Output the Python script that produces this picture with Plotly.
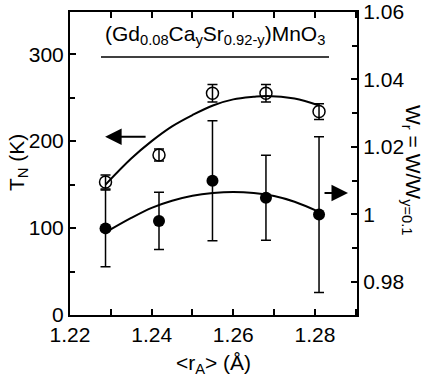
import plotly.graph_objects as go

# data
r_A = [1.2287, 1.2418, 1.2549, 1.2680, 1.2810]
T_N = [153, 184, 255, 255, 234]
T_N_err = [8, 7, 10, 10, 9]
W_r = [0.9958, 0.9980, 1.0099, 1.0049, 0.9999]
W_err = [0.0114, 0.0085, 0.0178, 0.0126, 0.0231]

# guide curves
fit_T_x = [1.2287, 1.235, 1.24, 1.245, 1.25, 1.255, 1.26, 1.265, 1.2682, 1.275, 1.281]
fit_T_y = [150, 180, 200, 217, 230, 241, 248, 251, 252, 249, 241]
fit_W_x = [1.2287, 1.235, 1.24, 1.245, 1.25, 1.255, 1.26, 1.265, 1.27, 1.275, 1.281]
fit_W_y = [0.9946, 0.9989, 1.0019, 1.0040, 1.0055, 1.0063, 1.0066, 1.0063, 1.0054, 1.0037, 1.0007]

FONT = "Liberation Sans, Arial, Helvetica, sans-serif"
BLACK = "black"
FS = 21

fig = go.Figure()

fig.add_trace(go.Scatter(x=fit_T_x, y=fit_T_y, mode="lines", line=dict(color=BLACK, width=2, shape="spline"),
                         showlegend=False, hoverinfo="skip"))
fig.add_trace(go.Scatter(x=fit_W_x, y=fit_W_y, mode="lines", yaxis="y2",
                         line=dict(color=BLACK, width=2, shape="spline"), showlegend=False, hoverinfo="skip"))

fig.add_trace(go.Scatter(
    x=r_A, y=T_N, mode="markers",
    marker=dict(symbol="circle-open", size=12, color=BLACK, line=dict(width=1.5, color=BLACK)),
    error_y=dict(type="data", array=T_N_err, color=BLACK, thickness=1.5, width=5),
    showlegend=False))

fig.add_trace(go.Scatter(
    x=r_A, y=W_r, mode="markers", yaxis="y2",
    marker=dict(symbol="circle", size=12, color=BLACK),
    error_y=dict(type="data", array=W_err, color=BLACK, thickness=1.5, width=5),
    showlegend=False))

axis_common = dict(
    showgrid=False, zeroline=False, showline=True, linecolor=BLACK, linewidth=2,
    ticks="inside", ticklen=6, tickwidth=1.5, tickcolor=BLACK, automargin=False,
    tickfont=dict(family=FONT, size=FS, color=BLACK),
)

fig.update_layout(
    width=427, height=382,
    margin=dict(l=70, r=70, t=12, b=67, autoexpand=False),
    paper_bgcolor="white", plot_bgcolor="white",
    font=dict(family=FONT, color=BLACK),
    xaxis=dict(
        range=[1.22, 1.2903], tickvals=[1.22, 1.24, 1.26, 1.28], ticktext=["1.22", "1.24", "1.26", "1.28"],
        minor=dict(dtick=0.01, tick0=1.22, ticks="inside", ticklen=5, tickwidth=1.5, tickcolor=BLACK),
        mirror="allticks",
        title=dict(text="<r<sub>A</sub>> (Å)", font=dict(family=FONT, size=FS, color=BLACK), standoff=10),
        **axis_common,
    ),
    yaxis=dict(
        range=[0, 348.5], tickvals=[0, 100, 200, 300],
        minor=dict(dtick=50, tick0=0, ticks="inside", ticklen=5, tickwidth=1.5, tickcolor=BLACK),
        **axis_common,
    ),
    yaxis2=dict(
        range=[0.9701, 1.0600], overlaying="y", side="right",
        tickvals=[0.98, 1.0, 1.02, 1.04, 1.06], ticktext=["0.98", "1", "1.02", "1.04", "1.06"],
        minor=dict(dtick=0.01, tick0=0.97, ticks="inside", ticklen=5, tickwidth=1.5, tickcolor=BLACK),
        **axis_common,
    ),
)

# axis titles as rotated annotations
fig.add_annotation(text="T<sub>N</sub> (K)", xref="paper", yref="paper",
                   x=-52 / 287, y=(315 - 163) / 303, showarrow=False, textangle=-90,
                   font=dict(family=FONT, size=FS, color=BLACK), xanchor="center", yanchor="middle")
fig.add_annotation(text="W<sub>r</sub> = W/W<sub>y=0.1</sub>", xref="paper", yref="paper",
                   x=1 + 55 / 287, y=(315 - 170) / 303, showarrow=False, textangle=90,
                   font=dict(family=FONT, size=FS, color=BLACK), xanchor="center", yanchor="middle")

# compound label with underline
fig.add_annotation(text="(Gd<sub>0.08</sub>Ca<sub>y</sub>Sr<sub>0.92-y</sub>)MnO<sub>3</sub>",
                   xref="paper", yref="paper", x=(215 - 70) / 287, y=(315 - 35) / 303,
                   showarrow=False, font=dict(family=FONT, size=FS, color=BLACK),
                   xanchor="center", yanchor="middle")
fig.add_shape(type="line", xref="paper", yref="paper",
              x0=(101 - 70) / 287, x1=(329 - 70) / 287, y0=(315 - 57) / 303, y1=(315 - 57) / 303,
              line=dict(color=BLACK, width=1.5))

# arrows indicating axes
fig.add_annotation(x=1.2286, y=205, xref="x", yref="y", ax=42, ay=0, text="",
                   showarrow=True, arrowhead=2, arrowsize=1.5, arrowwidth=2.2, arrowcolor=BLACK)
fig.add_annotation(x=1.2881, y=1.0063, xref="x", yref="y2", ax=-25, ay=0, text="",
                   showarrow=True, arrowhead=2, arrowsize=1.5, arrowwidth=2.2, arrowcolor=BLACK)

fig.write_html("out.html")
